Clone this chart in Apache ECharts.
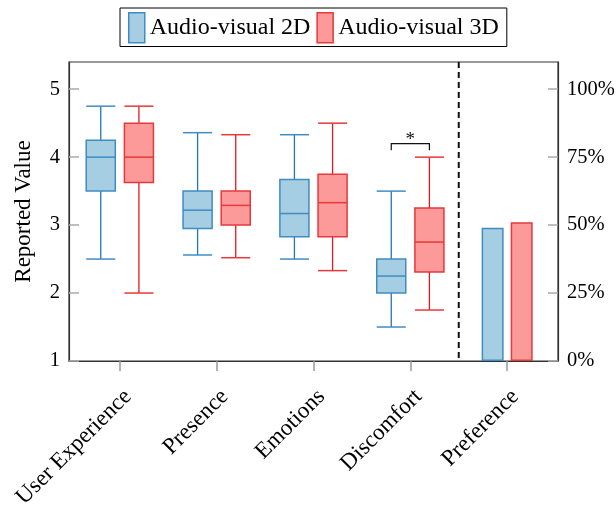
<!DOCTYPE html>
<html><head><meta charset="utf-8">
<script src="https://cdn.jsdelivr.net/npm/echarts@6/dist/echarts.min.js"></script>
<style>html,body{margin:0;padding:0;background:#fff}#c{width:616px;height:505px}</style>
</head><body><div id="c"></div>
<script>
const categories = ['User Experience', 'Presence', 'Emotions', 'Discomfort', 'Preference'];
// each row: [min, q1, median, q3, max]
const box2D = [
  [2.5, 3.5, 4.0, 4.25, 4.75],
  [2.56, 2.95, 3.22, 3.5, 4.36],
  [2.5, 2.83, 3.17, 3.67, 4.33],
  [1.5, 2.0, 2.25, 2.5, 3.5]
];
const box3D = [
  [2.0, 3.625, 4.0, 4.5, 4.75],
  [2.52, 3.0, 3.29, 3.5, 4.33],
  [2.33, 2.83, 3.33, 3.75, 4.5],
  [1.75, 2.31, 2.75, 3.25, 4.0]
];
const prefCategory = 4;
const pref2D = 49;   // percent
const pref3D = 51;   // percent
const sigCategory = 3, sigTop = 4.2, sigFoot = 4.1, sigLabel = '*';
const dividerBefore = 4;
const seriesNames = ['Audio-visual 2D', 'Audio-visual 3D'];

const FONT = 'Liberation Serif';
const BLUE = '#1f78b4', BLUE_EDGE = '#3f8cc4', BLUE_FILL = '#a6cee3';
const RED = '#e31a1c', RED_EDGE = '#e8383b', RED_FILL = '#fb9a99';
const catIdx = categories.map((_, i) => i);

function boxRenderer(side, stroke, edge, fill) {
  return function (params, api) {
    const c = api.value(0);
    const band = api.size([1, 0])[0];
    const x = api.coord([c, 1])[0] + side * 0.197 * band;
    const w = 0.3 * band;
    const y = v => api.coord([c, v])[1];
    const yMin = y(api.value(1)), yQ1 = y(api.value(2)), yMed = y(api.value(3)),
          yQ3 = y(api.value(4)), yMax = y(api.value(5));
    return {
      type: 'group', children: [
        {type: 'line', shape: {x1: x, y1: yMax, x2: x, y2: yQ3}, style: {stroke: stroke, lineWidth: 1.3}},
        {type: 'line', shape: {x1: x, y1: yQ1, x2: x, y2: yMin}, style: {stroke: stroke, lineWidth: 1.3}},
        {type: 'line', shape: {x1: x - w / 2, y1: yMax, x2: x + w / 2, y2: yMax}, style: {stroke: edge, lineWidth: 1.5}},
        {type: 'line', shape: {x1: x - w / 2, y1: yMin, x2: x + w / 2, y2: yMin}, style: {stroke: edge, lineWidth: 1.5}},
        {type: 'rect', shape: {x: x - w / 2, y: yQ3, width: w, height: yQ1 - yQ3}, style: {fill: fill, stroke: edge, lineWidth: 1.5}},
        {type: 'line', shape: {x1: x - w / 2, y1: yMed, x2: x + w / 2, y2: yMed}, style: {stroke: edge, lineWidth: 1.5}}
      ]
    };
  };
}

const chart = echarts.init(document.getElementById('c'), null, {renderer: 'canvas'});
chart.setOption({
  animation: false,
  textStyle: {fontFamily: FONT},
  legend: {
    left: 120, top: 8,
    padding: [4, 8, 3, 8],
    borderColor: '#000', borderWidth: 1,
    itemWidth: 16, itemHeight: 30, itemGap: 6,
    textStyle: {fontFamily: FONT, fontSize: 24, color: '#000'},
    data: [
      {name: seriesNames[0], icon: 'rect', itemStyle: {color: BLUE_FILL, borderColor: BLUE_EDGE, borderWidth: 1.5}},
      {name: seriesNames[1], icon: 'rect', itemStyle: {color: RED_FILL, borderColor: RED_EDGE, borderWidth: 1.5}}
    ]
  },
  grid: {left: 69, right: 58, top: 62, bottom: 144, show: true, borderColor: '#333', borderWidth: 1.2,
    containLabel: false, outerBoundsMode: 'none'},
  xAxis: {
    type: 'value', min: -0.525, max: categories.length - 1 + 0.525,
    axisLine: {show: true, onZero: false, lineStyle: {color: '#333', width: 1.2}},
    axisTick: {show: true, customValues: catIdx, length: 10, inside: false, lineStyle: {color: '#999', width: 1.5}},
    axisLabel: {customValues: catIdx, rotate: 45, margin: 24, align: 'right', verticalAlign: 'top',
      fontFamily: FONT, fontSize: 23, color: '#000',
      formatter: v => categories[Math.round(v)] || ''},
    splitLine: {show: false}
  },
  yAxis: [{
    type: 'value', min: 1, max: 5.4, interval: 1, position: 'left',
    name: 'Reported Value', nameLocation: 'middle', nameGap: 34,
    nameTextStyle: {fontFamily: FONT, fontSize: 23, color: '#000'},
    axisLine: {show: true, onZero: false, lineStyle: {color: '#333', width: 1.2}},
    axisTick: {show: true, inside: true, length: 10, lineStyle: {color: '#aaa', width: 1.5}},
    axisLabel: {margin: 9, fontFamily: FONT, fontSize: 20.5, color: '#000', showMaxLabel: false,
      formatter: v => (Number.isInteger(v) ? String(v) : '')},
    splitLine: {show: false}
  }, {
    type: 'value', min: 0, max: 110, interval: 25, position: 'right',
    axisLine: {show: true, onZero: false, lineStyle: {color: '#333', width: 1.2}},
    axisTick: {show: true, inside: true, length: 10, lineStyle: {color: '#aaa', width: 1.5}},
    axisLabel: {margin: 9, fontFamily: FONT, fontSize: 20.5, color: '#000', showMaxLabel: false,
      formatter: v => (v % 25 === 0 && v <= 100 ? v + '%' : '')},
    splitLine: {show: false}
  }],
  series: [
    {
      name: seriesNames[0], type: 'bar', yAxisIndex: 1, data: [[prefCategory, pref2D]],
      barWidth: 22, barGap: '32%',
      itemStyle: {color: BLUE_FILL, borderColor: BLUE_EDGE, borderWidth: 1.5}
    },
    {
      name: seriesNames[1], type: 'bar', yAxisIndex: 1, data: [[prefCategory, pref3D]],
      barWidth: 22, barGap: '32%',
      itemStyle: {color: RED_FILL, borderColor: RED_EDGE, borderWidth: 1.5}
    },
    {
      name: seriesNames[0], type: 'custom', yAxisIndex: 0,
      data: box2D.map((b, i) => [i].concat(b)),
      encode: {x: 0, y: [1, 2, 3, 4, 5]},
      renderItem: boxRenderer(-1, BLUE, BLUE_EDGE, BLUE_FILL)
    },
    {
      name: seriesNames[1], type: 'custom', yAxisIndex: 0,
      data: box3D.map((b, i) => [i].concat(b)),
      encode: {x: 0, y: [1, 2, 3, 4, 5]},
      renderItem: boxRenderer(1, RED, RED_EDGE, RED_FILL)
    },
    {
      type: 'custom', yAxisIndex: 0, silent: true,
      data: [[dividerBefore]],
      encode: {x: 0},
      renderItem: function (params, api) {
        const band = api.size([1, 0])[0];
        const x = api.coord([api.value(0), 1])[0] - band / 2;
        const cs = params.coordSys;
        return {type: 'line', shape: {x1: x, y1: cs.y, x2: x, y2: cs.y + cs.height},
          style: {stroke: '#111', lineWidth: 2, lineDash: [6, 4]}};
      }
    },
    {
      type: 'custom', yAxisIndex: 0, silent: true,
      data: [[sigCategory, sigTop, sigFoot]],
      encode: {x: 0, y: [1, 2]},
      renderItem: function (params, api) {
        const c = api.value(0);
        const band = api.size([1, 0])[0];
        const cx = api.coord([c, 1])[0];
        const x1 = cx - 0.197 * band, x2 = cx + 0.197 * band;
        const yT = api.coord([c, api.value(1)])[1], yF = api.coord([c, api.value(2)])[1];
        return {type: 'group', children: [
          {type: 'polyline', shape: {points: [[x1, yF], [x1, yT], [x2, yT], [x2, yF]]},
            style: {stroke: '#111', lineWidth: 1.2, fill: null}},
          {type: 'text', style: {text: sigLabel, x: cx, y: yT - 4, align: 'center', verticalAlign: 'middle',
            fontFamily: FONT, fontSize: 19, fill: '#111'}}
        ]};
      }
    }
  ]
});
</script></body></html>
